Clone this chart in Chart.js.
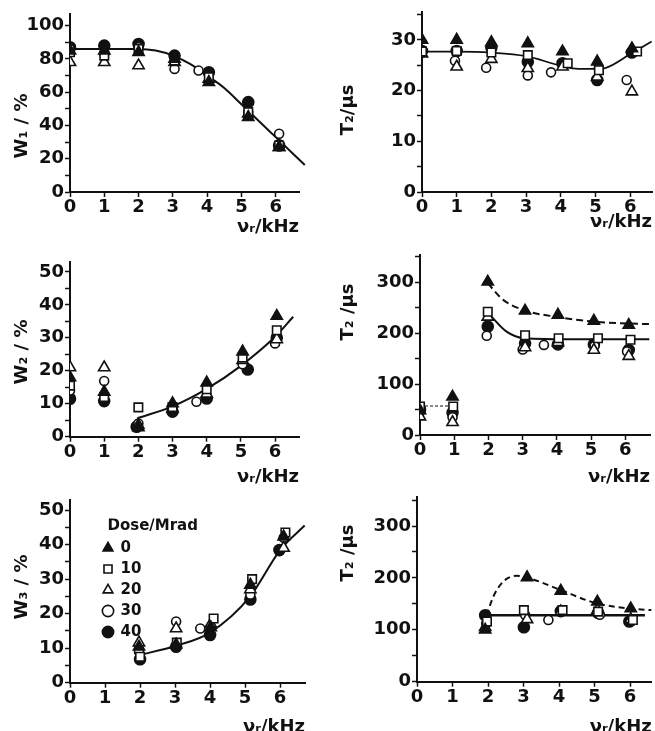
<!DOCTYPE html>
<html>
<head>
<meta charset="utf-8">
<script src="https://cdn.jsdelivr.net/npm/chart.js@4.4.1/dist/chart.umd.min.js"></script>
<style>
  body { margin: 0; background: #fff; width: 655px; height: 731px; overflow: hidden; position: relative; }
  .panel { position: absolute; }
</style>
</head>
<body>
<div class="panel" style="left:0;top:0;width:310px;height:240px"><canvas id="w1"></canvas></div>
<div class="panel" style="left:330px;top:0;width:325px;height:240px"><canvas id="t2a"></canvas></div>
<div class="panel" style="left:0;top:240px;width:310px;height:250px"><canvas id="w2"></canvas></div>
<div class="panel" style="left:330px;top:240px;width:325px;height:250px"><canvas id="t2b"></canvas></div>
<div class="panel" style="left:0;top:490px;width:310px;height:250px"><canvas id="w3"></canvas></div>
<div class="panel" style="left:330px;top:490px;width:325px;height:250px"><canvas id="t2c"></canvas></div>
<script>
// dose levels (Mrad), one series each
var doseLabels = ['0', '10', '20', '30', '40'];

// --- W1 (top left) ---
var w1Freq = [0, 1, 2, 3.05, 4.05, 5.2, 6.1];
var w1Freq30 = [0, 1, 2, 3.05, 3.75, 5.2, 6.1];
var w1Dose0 = [85, 85, 84, 80, 66, 45, 27];
var w1Dose10 = [84, 82, 86, 79, 69, 48, 28];
var w1Dose20 = [78, 78, 76, 78, 68, 47, 27];
var w1Dose30 = [86, 83, 87, 74, 73, 48, 35];
var w1Dose40 = [87, 88, 89, 82, 72, 54, 28];
var w1FitX = [0, 1, 2, 2.5, 3, 3.5, 4, 4.5, 5, 5.5, 6, 6.85];
var w1FitY = [86, 86, 86, 85, 82, 77, 70, 62.5, 52.7, 42.8, 33, 16.2];

// --- T2 of component 1 (top right) ---
var t2aFreq = [0, 1, 2, 3.05, 4.05, 5.05, 6.05];
var t2aFreq10 = [0, 1, 2, 3.05, 4.2, 5.1, 6.2];
var t2aFreq30 = [0, 0.95, 1.85, 3.05, 3.72, 5.1, 5.9];
var t2aDose0 = [30, 30, 29.5, 29.3, 27.7, 25.7, 28.3];
var t2aDose10 = [27.7, 27.8, 27.5, 27, 25.4, 24, 27.7];
var t2aDose20 = [27.3, 24.7, 26.2, 24.4, 24.7, 22.7, 19.8];
var t2aDose30 = [27.5, 25.9, 24.5, 23, 23.6, 24.4, 22.1];
var t2aDose40 = [27.8, 27.8, 28.5, 25.7, 25.4, 22.1, 27.5];
var t2aFitX = [0, 1, 2, 3, 4, 4.5, 5, 5.3, 6, 6.62];
var t2aFitY = [27.7, 27.7, 27.5, 26.8, 24.9, 24.3, 24.3, 24.5, 27.2, 29.7];

// --- W2 (middle left) ---
var w2Freq = [0, 1, 2, 3, 4, 5.05, 6.05];
var w2Freq30 = [0, 1, 2, 3, 3.7, 5.05, 6];
var w2Freq40 = [0, 1, 1.95, 3, 4, 5.2, 6.05];
var w2Dose0 = [18, 13.6, 2.8, 10.1, 16.4, 25.8, 36.6];
var w2Dose10 = [15.5, 12, 8.9, 9, 14.4, 24, 32.3];
var w2Dose20 = [21, 21, 3.5, 8.5, 13, 23.2, 29.5];
var w2Dose30 = [14, 16.9, 4, 8.8, 10.6, 22, 28.3];
var w2Dose40 = [11.5, 10.8, 3, 7.6, 11.6, 20.4, 30];
var w2FitX = [1.97, 3, 4, 5, 6, 6.53];
var w2FitY = [5.6, 9.2, 14.5, 21.5, 30.3, 36.4];

// --- T2 of component 2 (middle right) ---
var t2bFreq = [0, 0.95, 1.98, 3.07, 4.03, 5.08, 6.1];
var t2bFreq10 = [0, 0.97, 1.98, 3.07, 4.05, 5.2, 6.15];
var t2bFreq30 = [0, 0.95, 1.95, 3, 3.62, 5.1, 6.05];
var t2bDose0 = [48, 75, 301, 244, 236, 224, 216];
var t2bDose10 = [56, 56, 242, 196, 190, 190, 187];
var t2bDose20 = [36, 25, 232, 172, 182, 167, 155];
var t2bDose30 = [45, 35, 195, 168, 177, 175, 164];
var t2bDose40 = [50, 44, 213, 180, 178, 178, 167];
var t2bFitTopX = [1.98, 2.44, 3.1, 4, 5.05, 6.1, 6.7];
var t2bFitTopY = [298, 265, 244, 232, 223, 219, 218];
var t2bFitX = [2, 2.53, 3.05, 4.5, 6.7];
var t2bFitY = [239, 203, 190, 188, 188];
var t2bLowX = [0, 0.97];
var t2bLowY = [57, 57];

// --- W3 (bottom left) ---
var w3Freq = [1.97, 3.03, 4.02, 5.15, 6.1];
var w3Freq10 = [2, 3.05, 4.1, 5.2, 6.15];
var w3Freq30 = [1.97, 3.03, 3.72, 5.15, 6.1];
var w3Freq40 = [2, 3.03, 4, 5.15, 5.98];
var w3Dose0 = [10.4, 11, 16, 28.3, 42.3];
var w3Dose10 = [7.5, 11.6, 18.6, 30, 43.5];
var w3Dose20 = [11.6, 15.7, 17, 27, 39];
var w3Dose30 = [9, 17.7, 15.7, 25.5, 42];
var w3Dose40 = [6.8, 10.4, 13.8, 24.1, 38.4];
var w3FitX = [1.98, 3.03, 4, 5.14, 6, 6.7];
var w3FitY = [8, 10.7, 14.5, 24.9, 38.4, 45.5];

// --- T2 of component 3 (bottom right) ---
var t2cFreq = [1.92, 3.1, 4.05, 5.08, 6.02];
var t2cFreq10 = [1.97, 3.01, 4.1, 5.1, 6.08];
var t2cFreq30 = [1.95, 3.05, 3.7, 5.15, 6.05];
var t2cFreq40 = [1.92, 3.01, 4.05, 5.1, 5.98];
var t2cDose0 = [100, 201, 175, 154, 141];
var t2cDose10 = [116, 138, 138, 135, 119];
var t2cDose20 = [105, 120, 135, 138, 120];
var t2cDose30 = [112, 128, 119, 129, 117];
var t2cDose40 = [128, 105, 136, 133, 116];
var t2cFitTopX = [1.96, 2.15, 2.43, 2.8, 3.18, 4.03, 5.06, 6, 6.6];
var t2cFitTopY = [128, 164, 193, 204, 199, 177, 151, 141, 138];
var t2cFitX = [1.92, 6.42];
var t2cFitY = [128, 128];

var ink = '#111';
Chart.defaults.font.family = "'DejaVu Sans', sans-serif";
Chart.defaults.font.size = 18;
Chart.defaults.font.weight = 'bold';
Chart.defaults.color = ink;
Chart.defaults.animation = false;

// marker per dose: filled tri, open square, open tri, open circle, filled circle
var doseStyle = [
  { shape: 'triangle', fill: ink, r: 6.5 },
  { shape: 'rect', fill: '#fff', r: 6 },
  { shape: 'triangle', fill: '#fff', r: 6.5 },
  { shape: 'circle', fill: '#fff', r: 4.5 },
  { shape: 'circle', fill: ink, r: 5.5 }
];

function series(xs, ys) {
  return xs.map(function (x, i) { return { x: x, y: ys[i] }; });
}

// rotated y-axis caption, placed freely like in the paper
var yTitlePlugin = {
  id: 'yTitle',
  afterDraw: function (chart, args, opts) {
    if (!opts.text) return;
    var ctx = chart.ctx;
    ctx.save();
    ctx.translate(opts.x, opts.y);
    ctx.rotate(-Math.PI / 2);
    ctx.font = "bold 18px 'DejaVu Sans'";
    ctx.fillStyle = ink;
    ctx.textAlign = 'center';
    ctx.textBaseline = 'middle';
    ctx.fillText(opts.text, 0, 0);
    ctx.restore();
  }
};

// nudge the in-plot legend away from the axes
var legendShift = {
  id: 'legendShift',
  afterLayout: function (chart, args, opts) {
    var lg = chart.legend;
    if (!lg || !opts.on) return;
    var a = chart.chartArea;
    lg.left = a.left + opts.dx;
    lg.top = a.top + opts.dy;
    lg.right = a.right;
    lg.bottom = a.bottom;
    lg.width = lg.right - lg.left;
    lg.height = lg.bottom - lg.top;
  }
};

function makePanel(id, p) {
  var datasets = p.doses.map(function (d, i) {
    var s = doseStyle[i];
    return {
      label: doseLabels[i],
      data: series(d[0], d[1]),
      pointStyle: s.shape,
      pointRadius: s.r,
      backgroundColor: s.fill,
      borderColor: ink,
      borderWidth: 1.6
    };
  });
  p.curves.forEach(function (c) {
    datasets.push({
      label: 'fit',
      data: series(c.x, c.y),
      showLine: true,
      pointRadius: 0,
      borderColor: ink,
      borderWidth: c.w || 2,
      borderDash: c.dash || [],
      cubicInterpolationMode: 'monotone',
      clip: false
    });
  });

  return new Chart(document.getElementById(id), {
    type: 'scatter',
    data: { datasets: datasets },
    plugins: [yTitlePlugin, legendShift],
    options: {
      responsive: true,
      maintainAspectRatio: false,
      events: [],
      layout: { autoPadding: false, padding: { left: 0, top: p.padTop, right: p.padRight, bottom: 0 } },
      scales: {
        x: {
          type: 'linear',
          min: 0,
          max: p.xMax,
          border: { color: ink, width: 2 },
          grid: { drawOnChartArea: false, drawTicks: true, tickLength: 5, tickColor: ink, tickWidth: 1.5 },
          ticks: { stepSize: 1, includeBounds: false, autoSkip: false, maxRotation: 0, padding: 0 },
          title: { display: true, text: 'νᵣ/kHz', align: 'end', padding: { top: 0, bottom: p.xTitleBottom } },
          afterFit: function (scale) {
            scale.height = p.xHeight;
            scale.paddingLeft = 0;
            scale.paddingRight = 0;
          }
        },
        y: {
          min: 0,
          max: p.yMax,
          border: { color: ink, width: 2 },
          grid: { drawOnChartArea: false, drawTicks: true, tickLength: 5, tickColor: ink, tickWidth: 1.5 },
          ticks: {
            stepSize: p.yStep,
            includeBounds: false,
            autoSkip: false,
            padding: 1,
            callback: function (v) { return v % p.yEvery === 0 ? v : ''; }
          },
          afterFit: function (scale) {
            scale.width = p.yWidth;
            scale.paddingTop = 0;
            scale.paddingBottom = 0;
          }
        }
      },
      plugins: {
        tooltip: { enabled: false },
        yTitle: p.yTitle,
        legendShift: p.legend ? { on: true, dx: 27, dy: 18.5 } : { on: false },
        legend: p.legend ? {
          display: true,
          position: 'chartArea',
          fullSize: false,
          align: 'start',
          labels: {
            usePointStyle: true,
            boxWidth: 10,
            boxHeight: 8,
            padding: 6,
            color: ink,
            font: { size: 15, weight: 'bold' },
            filter: function (item) { return item.datasetIndex < 5; }
          },
          title: {
            display: true,
            text: '  Dose/Mrad',
            position: 'start',
            padding: { top: 0, bottom: 1 },
            color: ink,
            font: { size: 15, weight: 'bold', lineHeight: 1 }
          }
        } : { display: false }
      }
    }
  });
}

makePanel('w1', {
  doses: [[w1Freq, w1Dose0], [w1Freq, w1Dose10], [w1Freq, w1Dose20], [w1Freq30, w1Dose30], [w1Freq, w1Dose40]],
  curves: [{ x: w1FitX, y: w1FitY }],
  xMax: 6.68, yMax: 107, yStep: 10, yEvery: 20,
  padTop: 14, padRight: 11, yWidth: 70, xHeight: 48, xTitleBottom: 2,
  yTitle: { text: 'W₁ / %', x: 22, y: 126 }
});

makePanel('t2a', {
  doses: [[t2aFreq, t2aDose0], [t2aFreq10, t2aDose10], [t2aFreq, t2aDose20], [t2aFreq30, t2aDose30], [t2aFreq, t2aDose40]],
  curves: [{ x: t2aFitX, y: t2aFitY, w: 1.8 }],
  xMax: 6.63, yMax: 35.5, yStep: 5, yEvery: 10,
  padTop: 12, padRight: 3, yWidth: 92, xHeight: 48, xTitleBottom: 7,
  yTitle: { text: 'T₂/µs', x: 18, y: 110 }
});

makePanel('w2', {
  doses: [[w2Freq, w2Dose0], [w2Freq, w2Dose10], [w2Freq, w2Dose20], [w2Freq30, w2Dose30], [w2Freq40, w2Dose40]],
  curves: [{ x: w2FitX, y: w2FitY }],
  xMax: 6.7, yMax: 53, yStep: 5, yEvery: 10,
  padTop: 22, padRight: 11, yWidth: 70, xHeight: 53.3, xTitleBottom: 2,
  yTitle: { text: 'W₂ / %', x: 22, y: 112 }
});

makePanel('t2b', {
  doses: [[t2bFreq, t2bDose0], [t2bFreq10, t2bDose10], [t2bFreq, t2bDose20], [t2bFreq30, t2bDose30], [t2bFreq, t2bDose40]],
  curves: [
    { x: t2bFitTopX, y: t2bFitTopY, dash: [7, 4] },
    { x: t2bFitX, y: t2bFitY },
    { x: t2bLowX, y: t2bLowY, w: 1.2, dash: [3, 2] }
  ],
  xMax: 6.72, yMax: 353.6, yStep: 50, yEvery: 100,
  padTop: 15, padRight: 5, yWidth: 90, xHeight: 55, xTitleBottom: 2,
  yTitle: { text: 'T₂ /µs', x: 18, y: 72 }
});

makePanel('w3', {
  doses: [[w3Freq, w3Dose0], [w3Freq10, w3Dose10], [w3Freq, w3Dose20], [w3Freq30, w3Dose30], [w3Freq40, w3Dose40]],
  curves: [{ x: w3FitX, y: w3FitY }],
  xMax: 6.71, yMax: 52.9, yStep: 5, yEvery: 10,
  padTop: 10, padRight: 5, yWidth: 70, xHeight: 57.3, xTitleBottom: 2,
  yTitle: { text: 'W₃ / %', x: 22, y: 97 },
  legend: true
});

makePanel('t2c', {
  doses: [[t2cFreq, t2cDose0], [t2cFreq10, t2cDose10], [t2cFreq, t2cDose20], [t2cFreq30, t2cDose30], [t2cFreq40, t2cDose40]],
  curves: [
    { x: t2cFitTopX, y: t2cFitTopY, dash: [6, 4] },
    { x: t2cFitX, y: t2cFitY, w: 2.5 }
  ],
  xMax: 6.61, yMax: 355.9, yStep: 50, yEvery: 100,
  padTop: 7, padRight: 3.3, yWidth: 87, xHeight: 58.3, xTitleBottom: 2,
  yTitle: { text: 'T₂ /µs', x: 18, y: 63 }
});
</script>
</body>
</html>
